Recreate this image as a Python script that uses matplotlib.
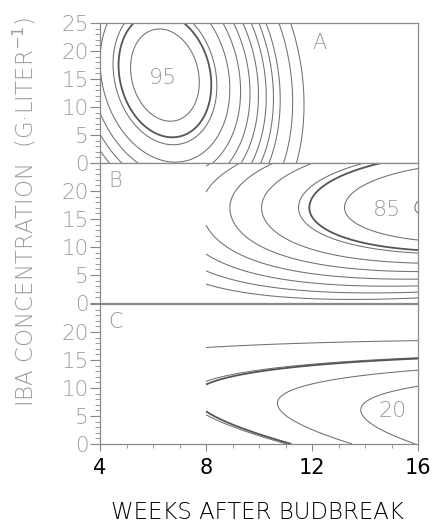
import numpy as np
import matplotlib.pyplot as plt
from matplotlib.ticker import MultipleLocator

plt.rcParams['font.family'] = ['DejaVu Sans']
plt.rcParams['mathtext.fontset'] = 'dejavusans'

# axis ticks
week_ticks = [4, 8, 12, 16]
conc_ticks = [0, 5, 10, 15, 20, 25]

# panel A: elliptic response surface (peak near week 6, 15 g/L)
a_peak = 98.9
a_week0 = 6.45
a_conc0 = 15.7
a_curv = 2.38
a_ratio = 6.35
a_tilt = 0.05
a_levels = [35, 45, 55, 60, 65, 70, 75, 80, 85, 90, 95]
a_bold = [91.8]

# panel B: surface rising towards week 16, defined from week 8 on
b_peak = 86.8
b_week0 = 18.7
b_conc0 = 17.0
b_curv_week = 0.227
b_curv_up = 0.105
b_curv_low8 = 0.085
b_curv_low16 = 0.155
b_levels = [45, 50, 55, 60, 65, 70, 75, 80, 85]
b_bold = [76.3]

# panel C
c_ref = 20.0
c_ref_week = 13.84
c_slope = 1.59
c_conc0 = 6.1
c_conc_slope = -0.38
c_curv_up = 0.135
c_curv_low = 0.116
c_levels = [0, 9.6, 15, 20]
c_bold = [10.0]

thin_col = "#707070"
bold_col = "#555555"
grey_txt = "#9c9c9c"

fig = plt.figure(figsize=(4.32, 5.25), dpi=100)
left, width, height = 0.2315, 0.7361, 0.2667
bottoms = [0.6895, 0.4229, 0.1543]
axes = [fig.add_axes([left, b, width, height]) for b in bottoms]

# --- A
wk = np.linspace(4, 16, 500)
cc = np.linspace(0, 25, 400)
W, C = np.meshgrid(wk, cc)
dw = W - a_week0
dc = C - a_conc0
ZA = a_peak - a_curv * (dw**2 + (dc / a_ratio)**2 + a_tilt * dw * dc)
axes[0].contour(W, C, ZA, levels=a_levels, colors=thin_col, linewidths=0.75)
axes[0].contour(W, C, ZA, levels=a_bold, colors=bold_col, linewidths=1.3)

# --- B and C only from week 8
wk2 = np.linspace(8, 16, 400)
W2, C2 = np.meshgrid(wk2, cc)

dc = C2 - b_conc0
low = b_curv_low8 + (b_curv_low16 - b_curv_low8) * (W2 - 8) / 8
curv = np.where(dc > 0, b_curv_up, low)
ZB = b_peak - b_curv_week * (W2 - b_week0)**2 - curv * dc**2
axes[1].contour(W2, C2, ZB, levels=b_levels, colors=thin_col, linewidths=0.75)
axes[1].contour(W2, C2, ZB, levels=b_bold, colors=bold_col, linewidths=1.3)

mid = c_conc0 + c_conc_slope * (W2 - c_ref_week)
dc = C2 - mid
curv = np.where(dc > 0, c_curv_up, c_curv_low)
ZC = c_ref + c_slope * (W2 - c_ref_week) - curv * dc**2
axes[2].contour(W2, C2, ZC, levels=c_levels, colors=thin_col, linewidths=0.75)
axes[2].contour(W2, C2, ZC, levels=c_bold, colors=bold_col, linewidths=1.3)

# contour labels and panel letters
txt = dict(color=grey_txt, ha="center", va="center", fontweight="light")
axes[0].text(6.39, 15.1, "95", fontsize=16, **txt)
axes[1].text(14.82, 16.6, "85", fontsize=16, **txt)
axes[2].text(15.06, 5.9, "20", fontsize=16, **txt)
axes[0].text(12.3, 21.4, "A", fontsize=15, **txt)
axes[1].text(4.57, 21.7, "B", fontsize=15, **txt)
axes[2].text(4.57, 21.7, "C", fontsize=15, **txt)

for i, ax in enumerate(axes):
    ax.set_xlim(4, 16)
    ax.set_ylim(0, 25)
    labels = [str(t) for t in conc_ticks]
    if i > 0:
        labels[-1] = ""
    ax.set_yticks(conc_ticks)
    ax.set_yticklabels(labels)
    ax.yaxis.set_minor_locator(MultipleLocator(1))
    ax.tick_params(axis="y", which="major", direction="out", length=7, width=0.8,
                   color="#888888", labelcolor=grey_txt, labelsize=15.5, pad=1)
    ax.tick_params(axis="y", which="minor", direction="out", length=3.5, width=0.6,
                   color="#888888")
    for lab in ax.get_yticklabels():
        lab.set_fontweight("light")
    for s in ax.spines.values():
        s.set_color("#8a8a8a")
        s.set_linewidth(0.9)
    if i < 2:
        ax.tick_params(axis="x", which="both", bottom=False, labelbottom=False)

ax = axes[2]
ax.set_xticks(week_ticks)
ax.xaxis.set_minor_locator(MultipleLocator(1))
ax.tick_params(axis="x", which="major", direction="out", length=5, width=0.8,
               color="#888888", labelcolor="black", labelsize=15, pad=5)
ax.tick_params(axis="x", which="minor", direction="out", length=3, width=0.6,
               color="#888888")

fig.text(0.596, 0.024, "WEEKS AFTER BUDBREAK", ha="center", va="center",
         fontsize=16.5, color="black", fontweight="light")
fig.text(0.058, 0.597, r"IBA CONCENTRATION  (G·LITER$^{-1}$)", ha="center",
         va="center", rotation=90, fontsize=16.5, color=grey_txt, fontweight="light")

fig.savefig("out.png", dpi=100)
